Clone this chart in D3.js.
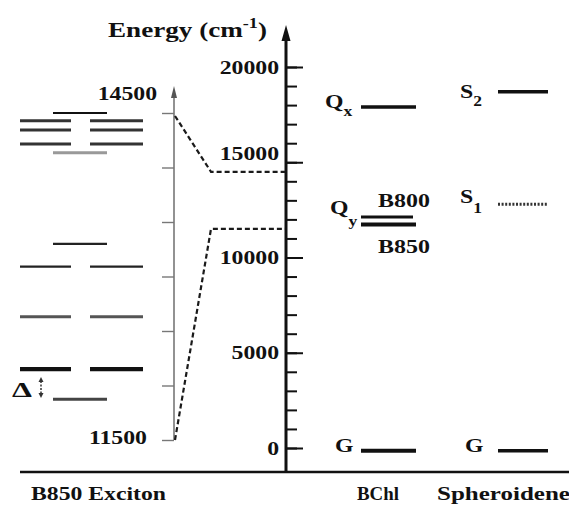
<!DOCTYPE html>
<html><head><meta charset="utf-8">
<script src="https://cdn.jsdelivr.net/npm/d3@7"></script>
<style>
html,body{margin:0;padding:0;background:#fff;}
svg{display:block;}
text{font-family:"Liberation Serif","Times New Roman",serif;font-weight:bold;fill:#111;}
</style></head><body>
<svg id="c" width="569" height="506"></svg>
<script>
// ---------------- DATA ----------------
const mainTicks = [0, 5000, 10000, 15000, 20000];
const mainMinorTicks = d3.range(0, 20001, 1000);
const insetTicks = [11500, 12000, 12500, 13000, 13500, 14000, 14500];
const insetTickLabels = [14500, 11500];
const excitonPairLevels = [14430, 14345, 14215, 13090, 12630, 12150];
const excitonSingleLevels = [14500, 14135, 13300, 11875];
const bchlStates = ["Qx", "B800", "B850", "G"];
const bchlEnergies = [17900, 12125, 11730, -150];
const spheroideneStates = ["S2", "S1", "G"];
const spheroideneEnergies = [18700, 12800, -150];
const connectorEnergies = [14500, 11500];
const columnLabels = ["B850 Exciton", "BChl", "Spheroidene"];
const axisTitle = "Energy (cm";

// ---------------- LAYOUT ----------------
const svg = d3.select("#c");
const yMain = d3.scaleLinear().domain([0, 20000]).range([448, 67]);
const yInset = d3.scaleLinear().domain([11500, 14500]).range([440, 113]);
const axisX = 286, insetX = 174, baseY = 472;
const STRETCH = 1.25;

function txt(x, y, parts, opt = {}) {
  const size = opt.size || 19;
  const t = svg.append("text").attr("font-size", size)
    .attr("text-anchor", opt.anchor || "start");
  (Array.isArray(parts) ? parts : [[parts]]).forEach(p => {
    const ts = t.append("tspan").text(p[0]);
    if (p[1]) ts.attr("font-size", p[1]);
    if (p[2]) ts.attr("dy", p[2]);
  });
  let s = STRETCH;
  if (opt.w) s = opt.w / t.node().getComputedTextLength();
  t.attr("transform", `translate(${x},${y}) scale(${s},1)`);
  return t;
}

// baseline
svg.append("line").attr("x1", 20).attr("x2", 569).attr("y1", baseY).attr("y2", baseY)
  .attr("stroke", "#111").attr("stroke-width", 2.5);

// ---- main axis ----
svg.append("line").attr("x1", axisX).attr("x2", axisX).attr("y1", baseY).attr("y2", 36)
  .attr("stroke", "#111").attr("stroke-width", 3);
svg.append("path").attr("d", `M${axisX},25 L${axisX-4.5},41 L${axisX+4.5},41 Z`).attr("fill", "#111");

const gMinor = svg.append("g").attr("transform", `translate(${axisX},0)`)
  .call(d3.axisLeft(yMain).tickValues(mainMinorTicks).tickSize(-11).tickFormat(""));
gMinor.select(".domain").remove();
gMinor.selectAll("line").attr("stroke", "#111").attr("stroke-width", 2);

const gMajor = svg.append("g").attr("transform", `translate(${axisX},0)`)
  .call(d3.axisLeft(yMain).tickValues(mainTicks).tickSize(-17).tickPadding(7).tickFormat(d3.format("d")));
gMajor.select(".domain").remove();
gMajor.selectAll("line").attr("stroke", "#111").attr("stroke-width", 2);
gMajor.selectAll("text").attr("font-size", 19).attr("fill", "#111")
  .attr("font-family", '"Liberation Serif",serif').attr("font-weight", "bold")
  .attr("x", -7 / STRETCH)
  .attr("transform", d => `translate(0,${d === 15000 ? -9 : 0}) scale(${STRETCH},1)`);

// axis title
txt(108, 37, [[axisTitle], ["-1", 14, -9], [")", null, 9]], {size: 21, w: 159});

// ---- inset axis ----
svg.append("line").attr("x1", insetX).attr("x2", insetX).attr("y1", yInset(11500)).attr("y2", 95)
  .attr("stroke", "#777").attr("stroke-width", 1.6);
svg.append("path").attr("d", `M${insetX},86 L${insetX-3},98 L${insetX+3},98 Z`).attr("fill", "#555");
const gInset = svg.append("g").attr("transform", `translate(${insetX},0)`)
  .call(d3.axisLeft(yInset).tickValues(insetTicks).tickSize(12).tickFormat(""));
gInset.select(".domain").remove();
gInset.selectAll("line").attr("stroke", "#777").attr("stroke-width", 1.4);
txt(157, yInset(insetTickLabels[0]) - 13, String(insetTickLabels[0]), {anchor: "end"});
txt(147, yInset(insetTickLabels[1]) + 4, String(insetTickLabels[1]), {anchor: "end"});

// ---- connectors ----
connectorEnergies.forEach(E => {
  svg.append("path")
    .attr("d", `M${insetX + 1},${yInset(E) + (E === 14500 ? 3 : 0)} L211,${yMain(E)} L${axisX - 1},${yMain(E)}`)
    .attr("fill", "none").attr("stroke", "#1a1a1a").attr("stroke-width", 2.2)
    .attr("stroke-dasharray", "5,3");
});

// ---- exciton levels ----
const pairW = [3, 3, 3, 2.2, 3, 4.2];
const pairC = ["#333", "#333", "#333", "#222", "#555", "#111"];
excitonPairLevels.forEach((E, i) => {
  [[20, 71], [90, 143]].forEach(([a, b]) => {
    svg.append("line").attr("x1", a).attr("x2", b).attr("y1", yInset(E)).attr("y2", yInset(E))
      .attr("stroke", pairC[i]).attr("stroke-width", pairW[i]);
  });
});
const singW = [2.2, 3, 2.2, 3];
const singC = ["#111", "#999", "#222", "#444"];
excitonSingleLevels.forEach((E, i) => {
  svg.append("line").attr("x1", 53).attr("x2", 107).attr("y1", yInset(E)).attr("y2", yInset(E))
    .attr("stroke", singC[i]).attr("stroke-width", singW[i]);
});

// Delta with small double arrow
txt(12, 397, "Δ", {size: 22, w: 20});
svg.append("line").attr("x1", 41).attr("x2", 41).attr("y1", 381).attr("y2", 394)
  .attr("stroke", "#333").attr("stroke-width", 1.5).attr("stroke-dasharray", "2,1.5");
svg.append("path").attr("d", "M41,377 L38.5,382 L43.5,382 Z").attr("fill", "#333");
svg.append("path").attr("d", "M41,398 L38.5,393 L43.5,393 Z").attr("fill", "#333");

// ---- BChl levels ----
const bchlX = [361, 416];
const bchlW = [3.5, 3, 4, 4];
bchlEnergies.forEach((E, i) => {
  svg.append("line").attr("x1", bchlX[0]).attr("x2", bchlX[1] - (i === 1 ? 3 : 0))
    .attr("y1", yMain(E)).attr("y2", yMain(E))
    .attr("stroke", "#111").attr("stroke-width", bchlW[i]);
});
txt(325, yMain(bchlEnergies[0]) + 1, [["Q"], ["x", 14, 8]]);
txt(330, yMain(bchlEnergies[1]) - 3, [["Q"], ["y", 14, 12]]);
txt(378, yMain(bchlEnergies[1]) - 10, bchlStates[1], {w: 52});
txt(378, yMain(bchlEnergies[2]) + 28, bchlStates[2], {w: 52});
txt(335, yMain(bchlEnergies[3]) + 1, bchlStates[3]);

// ---- Spheroidene levels ----
const sphX = [498, 548];
spheroideneEnergies.forEach((E, i) => {
  const l = svg.append("line").attr("x1", sphX[0]).attr("x2", sphX[1])
    .attr("y1", yMain(E)).attr("y2", yMain(E))
    .attr("stroke", "#111").attr("stroke-width", i === 1 ? 3 : 3.5);
  if (i === 1) l.attr("stroke-dasharray", "2,1.6").attr("stroke", "#333");
});
txt(460, yMain(spheroideneEnergies[0]) + 6, [["S"], ["2", 14, 8]]);
txt(460, yMain(spheroideneEnergies[1]) - 1, [["S"], ["1", 14, 10]]);
txt(465, yMain(spheroideneEnergies[2]) + 1, spheroideneStates[2]);

// ---- column labels ----
txt(31, 500, columnLabels[0], {w: 135});
txt(357, 500, columnLabels[1], {w: 42});
txt(437, 500, columnLabels[2], {w: 133});
</script>
</body></html>
